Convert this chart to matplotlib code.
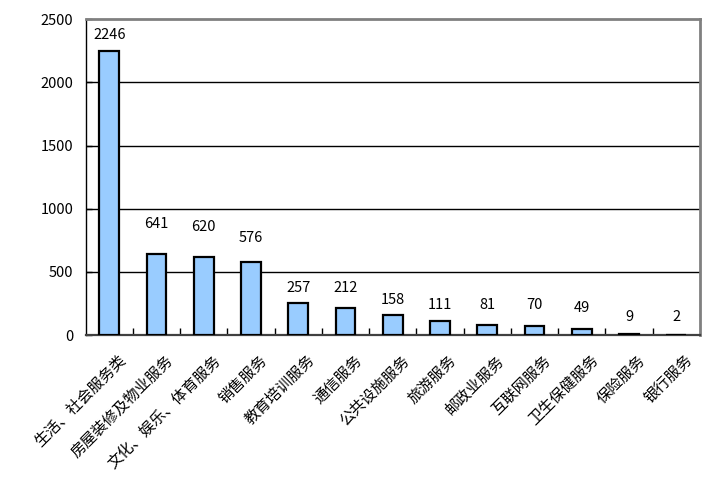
import matplotlib
matplotlib.use('Agg')
import matplotlib.pyplot as plt
import matplotlib.transforms as mtransforms
import numpy as np

plt.rcParams['font.family'] = ['Noto Sans CJK SC', 'DejaVu Sans']

# data
categories = ['生活、社会服务类', '房屋装修及物业服务', '文化、娱乐、体育服务', '销售服务',
              '教育培训服务', '通信服务', '公共设施服务', '旅游服务', '邮政业服务',
              '互联网服务', '卫生保健服务', '保险服务', '银行服务']
counts = [2246, 641, 620, 576, 257, 212, 158, 111, 81, 70, 49, 9, 2]
# label offsets above bar top (pixels), as placed in the original
label_gap = [16, 30, 30, 24, 15, 20, 15, 16, 20, 21, 21, 17, 18]

fig = plt.figure(figsize=(7.2, 4.8), dpi=100)
ax = fig.add_axes([0.119, 0.302, 0.853, 0.658])

x = np.arange(len(categories))
ax.bar(x, counts, width=0.42, color='#99CCFF', edgecolor='black', linewidth=1.6, zorder=3)

for xi, v, g in zip(x, counts, label_gap):
    ax.annotate(str(v), (xi, v), xytext=(0, g * 0.72), textcoords='offset points',
                ha='center', va='center', fontsize=10.5, color='black')

ax.set_xlim(-0.5, len(categories) - 0.5)
ax.set_ylim(0, 2500)
ax.set_yticks(np.arange(0, 2501, 500))
for yv in [500, 1000, 1500, 2000]:
    ax.axhline(yv, color='black', linewidth=1.0, zorder=1)

# x tick marks at category boundaries, labels at centres
ax.set_xticks(np.arange(0.5, len(categories) - 0.5, 1.0))
ax.set_xticklabels([])
ax.tick_params(axis='x', direction='in', length=5, width=1, color='black')
ax.set_xticks(x, minor=True)
ax.set_xticklabels(categories, minor=True, rotation=45, ha='right', va='top',
                   rotation_mode='anchor', fontsize=11)
ax.tick_params(axis='x', which='minor', length=0, pad=12)
shift = mtransforms.ScaledTranslation(8 / 100, 0, fig.dpi_scale_trans)
for lbl in ax.get_xticklabels(minor=True):
    lbl.set_transform(lbl.get_transform() + shift)
ax.tick_params(axis='y', direction='in', length=4, width=1, labelsize=10.5, pad=9)

for side in ['top', 'right']:
    ax.spines[side].set_color('#808080')
    ax.spines[side].set_linewidth(2)
ax.spines['left'].set_color('black')
ax.spines['left'].set_linewidth(1)
ax.spines['bottom'].set_color('#404040')
ax.spines['bottom'].set_linewidth(1.6)

plt.savefig('out.png', dpi=100, facecolor='white')
